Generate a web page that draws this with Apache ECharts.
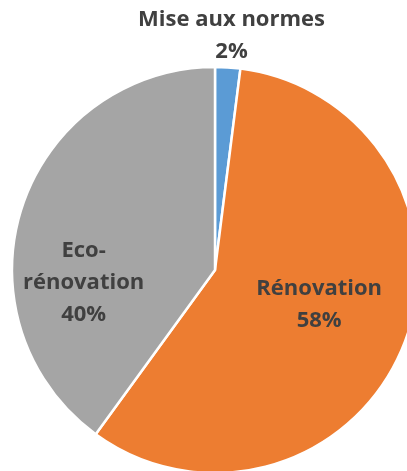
<!DOCTYPE html>
<html><head><meta charset="utf-8">
<script src="https://cdn.jsdelivr.net/npm/echarts@6/dist/echarts.min.js"></script>
<style>html,body{margin:0;padding:0;background:#fff}#c{width:407px;height:471px}</style>
</head><body><div id="c"></div>
<script>
const categories = ['Mise aux normes', 'Rénovation', 'Eco-\nrénovation'];
const values = [2, 58, 40];
const colors = ['#5B9BD5', '#ED7D31', '#A5A5A5'];
const labelOffsets = [[10, -130], [7, -4], [-32, 45]];

const chart = echarts.init(document.getElementById('c'), null, {renderer: 'canvas'});
chart.setOption({
  animation: false,
  series: [{
    type: 'pie',
    center: [215, 270],
    radius: 203,
    startAngle: 90,
    clockwise: true,
    label: {
      show: true,
      position: 'inside',
      formatter: p => p.name + '\n' + p.value + '%',
      fontFamily: 'Open Sans',
      fontWeight: 'bold',
      fontSize: 22,
      lineHeight: 32,
      color: '#404040',
      align: 'center'
    },
    labelLine: {show: false},
    itemStyle: {borderColor: '#fff', borderWidth: 2.5},
    emphasis: {disabled: true},
    data: categories.map((c, i) => ({
      name: c, value: values[i],
      itemStyle: {color: colors[i]},
      label: {offset: labelOffsets[i]}
    }))
  }]
});
</script></body></html>
